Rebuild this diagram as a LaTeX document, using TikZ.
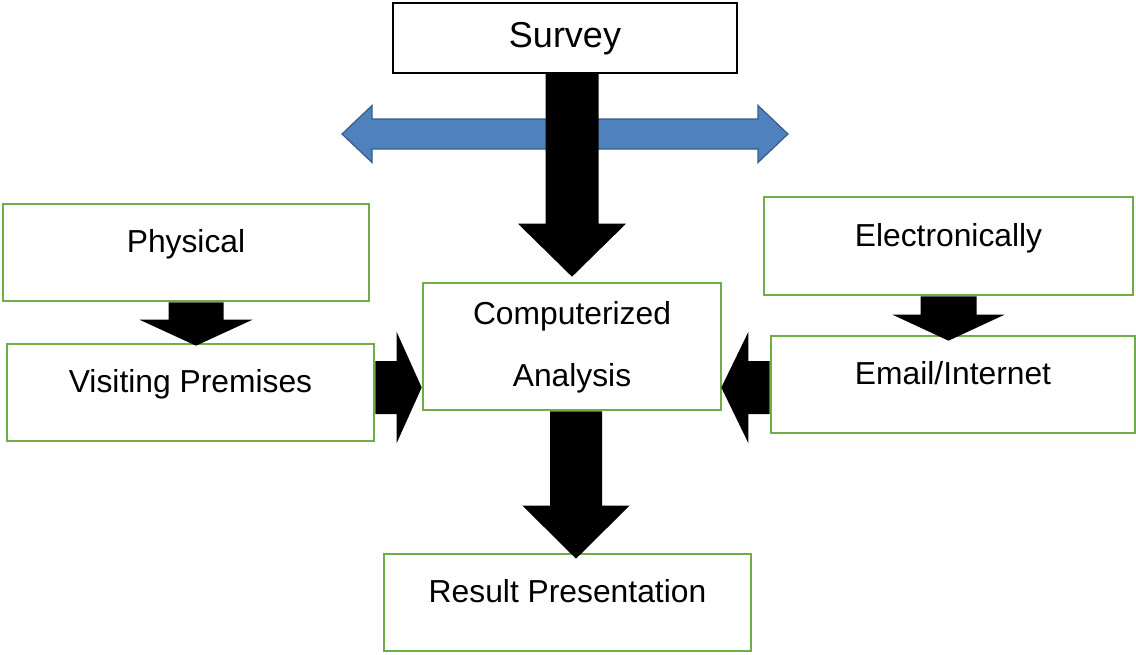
\documentclass[tikz,border=0pt]{standalone}
\usepackage{fontspec}
\setmainfont{Liberation Sans}
\usetikzlibrary{calc}
\definecolor{boxgreen}{RGB}{112,173,71}
\definecolor{arrowblue}{RGB}{79,129,189}
\definecolor{arrowblueedge}{RGB}{56,93,138}

% Fat block arrows: #1 start point, #2 tip, #3 shaft half width,
% #4 head half width, #5 head length
\newcommand\fatdown[5]{%
  \fill[black] let \p1=#1, \p2=#2 in
    (\x2-#3,\y1) -- (\x2+#3,\y1) -- (\x2+#3,\y2+#5) -- (\x2+#4,\y2+#5)
    -- (\x2,\y2) -- (\x2-#4,\y2+#5) -- (\x2-#3,\y2+#5) -- cycle;}
\newcommand\fatright[5]{%
  \fill[black] let \p1=#1, \p2=#2 in
    (\x1,\y2-#3) -- (\x2-#5,\y2-#3) -- (\x2-#5,\y2-#4) -- (\x2,\y2)
    -- (\x2-#5,\y2+#4) -- (\x2-#5,\y2+#3) -- (\x1,\y2+#3) -- cycle;}
\newcommand\fatleft[5]{%
  \fill[black] let \p1=#1, \p2=#2 in
    (\x1,\y2-#3) -- (\x2+#5,\y2-#3) -- (\x2+#5,\y2-#4) -- (\x2,\y2)
    -- (\x2+#5,\y2+#4) -- (\x2+#5,\y2+#3) -- (\x1,\y2+#3) -- cycle;}

\begin{document}
\begin{tikzpicture}[x=1pt,y=-1pt,
  gbox/.style={draw=boxgreen, line width=2.6pt, fill=white, inner sep=0pt},
  sbox/.style={draw=black, line width=2pt, fill=white, inner sep=0pt},
  lbl/.style={font=\fontsize{31.8}{62}\selectfont, inner sep=0pt, anchor=base},
  biglbl/.style={font=\fontsize{36}{42}\selectfont, inner sep=0pt}]

\useasboundingbox (0,0) rectangle (1136,654);

% boxes
\node[sbox, minimum width=344pt, minimum height=70pt] (survey) at (565,38) {};
\node[gbox, minimum width=366pt, minimum height=97pt] (phys)   at (186,252.5) {};
\node[gbox, minimum width=367pt, minimum height=97pt] (visit)  at (190.5,392.5) {};
\node[gbox, minimum width=298pt, minimum height=127pt] (comp)  at (572,346.5) {};
\node[gbox, minimum width=369pt, minimum height=98pt] (elec)   at (948.5,246) {};
\node[gbox, minimum width=364pt, minimum height=97pt] (email)  at (953,384.5) {};
\node[gbox, minimum width=367pt, minimum height=97pt] (result) at (567.5,602.5) {};

% blue two-way arrow across the survey stem
\coordinate (dbl) at ($(survey.south)+(0,60)$);
\filldraw[fill=arrowblue, draw=arrowblueedge, line width=1.2pt, line join=miter]
  let \p1=(dbl) in
  (\x1-223pt,\y1) -- (\x1-193pt,\y1+28.5pt) -- (\x1-193pt,\y1+15pt)
  -- (\x1+193pt,\y1+15pt) -- (\x1+193pt,\y1+28.5pt) -- (\x1+223pt,\y1)
  -- (\x1+193pt,\y1-28.5pt) -- (\x1+193pt,\y1-15pt) -- (\x1-193pt,\y1-15pt)
  -- (\x1-193pt,\y1-28.5pt) -- cycle;

% black flow arrows
\fatdown{(survey.south)}{($(comp.north)+(0,-5)$)}{26.5pt}{54pt}{53pt}
\fatdown{(phys.south)}{($(phys.south |- visit.north)+(10,3)$)}{27.5pt}{56.5pt}{26pt}
\fatdown{(elec.south)}{($(elec.south |- email.north)+(0,6)$)}{28pt}{56pt}{26pt}
\fatdown{(comp.south)}{($(comp.south |- result.north)+(4,6)$)}{26pt}{53.5pt}{53pt}
\fatright{(visit.east)}{($(comp.west |- visit.east)+(0,-5)$)}{26.5pt}{55.5pt}{25pt}
\fatleft{(email.west)}{($(comp.east |- email.west)+(-1,3)$)}{26.5pt}{55.5pt}{27pt}

% labels
\node[biglbl] (tsurvey) at ($(survey.center)+(0,1)$) {Survey};
\node[lbl] (tphys)   at (phys.center)   {Physical};
\node[lbl] (tvisit)  at (visit.center)  {Visiting Premises};
\node[font=\fontsize{31.8}{62}\selectfont, inner sep=0pt, align=center]
  (tcomp) at ($(comp.center)+(0,1)$) {Computerized\\Analysis};
\node[lbl] (telec)   at (elec.center)   {Electronically};
\node[lbl] (temail)  at (email.center)  {Email/Internet};
\node[lbl] (tresult) at (result.center) {Result Presentation};
\end{tikzpicture}
\end{document}
